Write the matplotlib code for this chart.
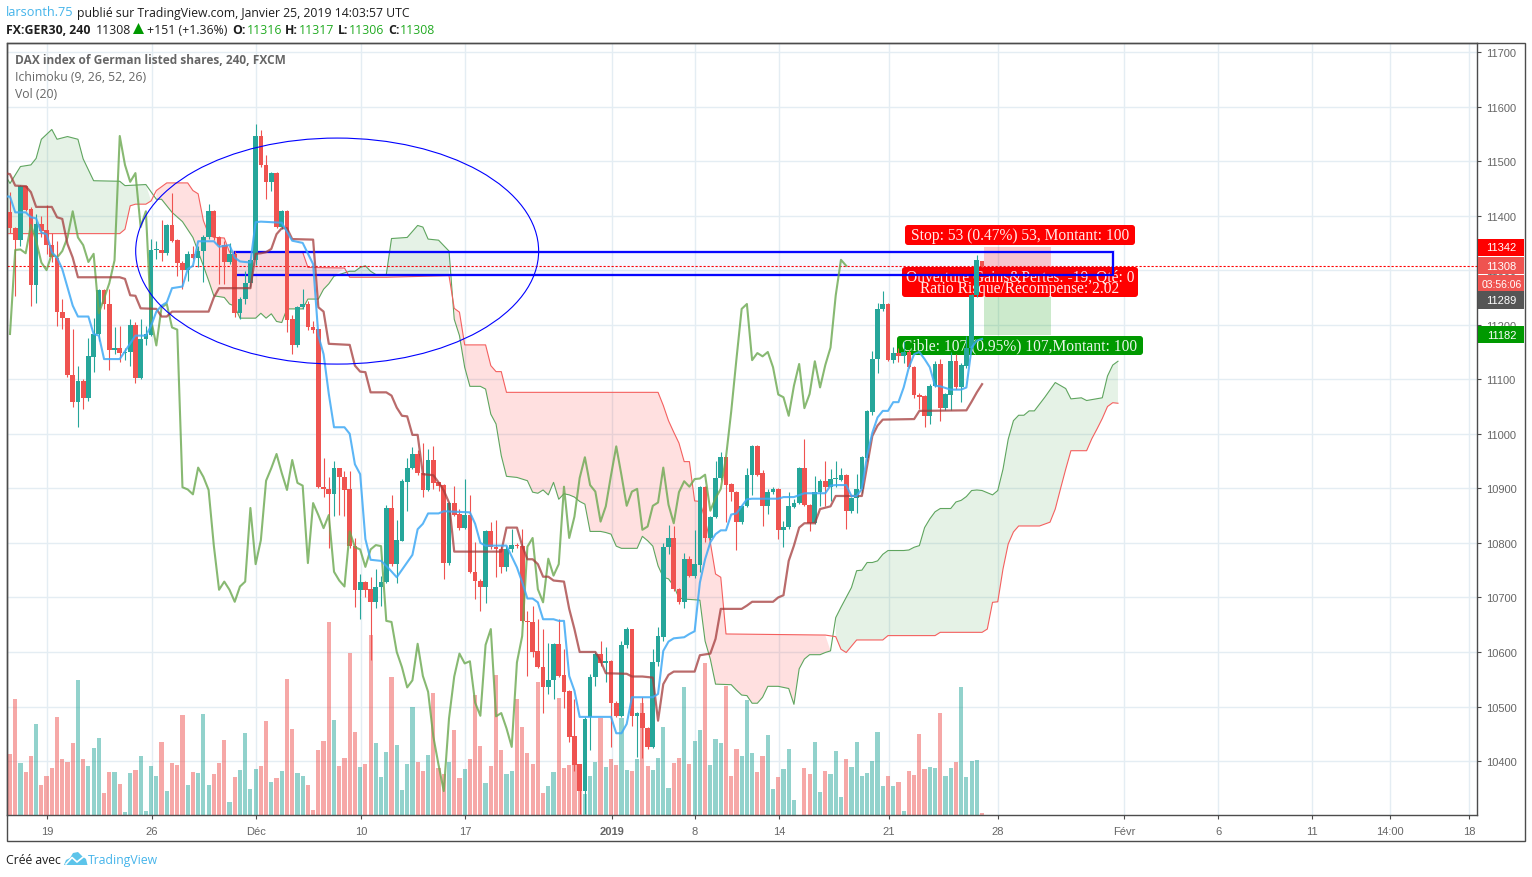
import matplotlib
matplotlib.use("Agg")
import matplotlib.pyplot as plt
import numpy as np
from matplotlib.patches import Ellipse, FancyBboxPatch, Polygon, Rectangle
from matplotlib.transforms import Affine2D, blended_transform_factory

W, H = 1532, 878

# candles, one value per 4h bar
opens = [11407, 11377, 11356, 11454, 11412, 11273, 11385, 11373, 11347, 11323, 11224, 11212, 11108, 11059, 11097, 11066,
         11141, 11183, 11264, 11238, 11154, 11157, 11148, 11150, 11200, 11102, 11174, 11182, 11337, 11337, 11331, 11383,
         11355, 11314, 11300, 11330, 11323, 11335, 11360, 11408, 11360, 11346, 11315, 11330, 11221, 11248, 11276, 11318,
         11546, 11493, 11462, 11478, 11379, 11408, 11210, 11162, 11232, 11238, 11195, 11192, 10902, 10898, 10890, 10938,
         10921, 10899, 10795, 10714, 10729, 10715, 10692, 10720, 10728, 10864, 10761, 10804, 10912, 10937, 10963, 10928,
         10897, 10952, 10911, 10906, 10763, 10873, 10853, 10827, 10851, 10747, 10731, 10720, 10821, 10792, 10788, 10756,
         10788, 10796, 10794, 10657, 10655, 10601, 10573, 10535, 10548, 10615, 10557, 10528, 10446, 10394, 10345, 10480,
         10555, 10597, 10580, 10584, 10507, 10483, 10613, 10642, 10482, 10488, 10460, 10426, 10581, 10628, 10793, 10809,
         10716, 10691, 10771, 10740, 10760, 10903, 10809, 10848, 10919, 10957, 10908, 10894, 10839, 10867, 10924, 10977,
         10928, 10868, 10894, 10899, 10824, 10830, 10866, 10874, 10938, 10870, 10836, 10893, 10913, 10903, 10917, 10915,
         10925, 10859, 10882, 10899, 10955, 11040, 11137, 11229, 11238, 11135, 11148, 11142, 11150, 11122, 11072, 11069,
         11033, 11088, 11128, 11047, 11072, 11133, 11085, 11125, 11158, 11254, 11316]
closes = [11377, 11356, 11454, 11410, 11273, 11385, 11372, 11347, 11325, 11224, 11212, 11108, 11059, 11097, 11066, 11143,
          11183, 11264, 11238, 11154, 11157, 11148, 11150, 11200, 11102, 11174, 11183, 11337, 11338, 11331, 11383, 11354,
          11314, 11300, 11330, 11323, 11335, 11360, 11408, 11360, 11346, 11315, 11330, 11221, 11248, 11276, 11318, 11546,
          11493, 11462, 11478, 11379, 11408, 11209, 11162, 11232, 11238, 11195, 11191, 10902, 10898, 10889, 10938, 10921,
          10897, 10795, 10714, 10729, 10714, 10692, 10720, 10729, 10864, 10761, 10805, 10914, 10937, 10963, 10928, 10897,
          10952, 10910, 10905, 10763, 10873, 10851, 10827, 10851, 10747, 10731, 10720, 10821, 10792, 10788, 10756, 10788,
          10796, 10794, 10657, 10655, 10600, 10572, 10535, 10548, 10615, 10556, 10527, 10445, 10393, 10345, 10478, 10555,
          10597, 10579, 10583, 10507, 10483, 10613, 10642, 10482, 10488, 10460, 10426, 10581, 10629, 10793, 10809, 10715,
          10691, 10771, 10740, 10761, 10903, 10809, 10848, 10919, 10957, 10906, 10894, 10839, 10867, 10924, 10977, 10924,
          10868, 10894, 10899, 10824, 10830, 10868, 10874, 10938, 10870, 10836, 10893, 10913, 10903, 10917, 10918, 10925,
          10859, 10882, 10899, 10957, 11041, 11137, 11229, 11238, 11135, 11148, 11142, 11150, 11122, 11072, 11067, 11033,
          11088, 11128, 11047, 11073, 11133, 11085, 11126, 11158, 11254, 11319, 11308]
highs = [11443, 11380, 11456, 11456, 11415, 11403, 11400, 11419, 11369, 11354, 11247, 11212, 11192, 11125, 11100, 11175,
         11212, 11266, 11266, 11265, 11195, 11198, 11158, 11210, 11205, 11210, 11198, 11357, 11354, 11392, 11385, 11441,
         11358, 11316, 11335, 11345, 11345, 11365, 11421, 11410, 11362, 11354, 11350, 11335, 11250, 11299, 11320, 11568,
         11557, 11511, 11480, 11480, 11410, 11410, 11217, 11234, 11265, 11244, 11207, 11193, 10955, 10920, 10950, 10938,
         10931, 10931, 10809, 10743, 10730, 10737, 10752, 10740, 10870, 10888, 10842, 10918, 10955, 10975, 10970, 10984,
         10973, 10977, 10912, 10908, 10875, 10905, 10862, 10918, 10888, 10801, 10733, 10823, 10838, 10842, 10795, 10795,
         10825, 10800, 10825, 10676, 10685, 10660, 10642, 10616, 10617, 10660, 10606, 10530, 10514, 10395, 10480, 10560,
         10600, 10621, 10610, 10586, 10510, 10620, 10645, 10643, 10490, 10517, 10462, 10606, 10645, 10800, 10833, 10831,
         10718, 10782, 10776, 10823, 10905, 10905, 10850, 10950, 10966, 10958, 10910, 10896, 10869, 10938, 10979, 10979,
         10933, 10898, 10902, 10901, 10840, 10893, 10880, 10940, 10990, 10872, 10922, 10917, 10950, 10935, 10950, 10938,
         10927, 10884, 10926, 10960, 11043, 11151, 11240, 11261, 11240, 11160, 11158, 11170, 11153, 11125, 11075, 11071,
         11092, 11134, 11138, 11075, 11150, 11146, 11130, 11180, 11256, 11327, 11317]
lows = [11369, 11252, 11344, 11408, 11234, 11240, 11360, 11330, 11315, 11198, 11192, 11105, 11050, 11012, 11045, 11060,
        11114, 11170, 11228, 11117, 11147, 11131, 11135, 11124, 11093, 11100, 11162, 11180, 11320, 11317, 11328, 11352,
        11290, 11265, 11280, 11320, 11305, 11278, 11358, 11355, 11275, 11275, 11312, 11215, 11210, 11238, 11270, 11310,
        11490, 11430, 11445, 11377, 11375, 11186, 11146, 11160, 11228, 11190, 11185, 10900, 10884, 10790, 10850, 10851,
        10850, 10790, 10683, 10660, 10700, 10586, 10680, 10685, 10726, 10758, 10727, 10803, 10859, 10935, 10925, 10885,
        10896, 10898, 10895, 10734, 10760, 10849, 10824, 10825, 10745, 10698, 10676, 10690, 10788, 10737, 10745, 10749,
        10784, 10790, 10655, 10556, 10590, 10570, 10489, 10523, 10514, 10555, 10498, 10435, 10382, 10303, 10303, 10421,
        10538, 10575, 10545, 10425, 10480, 10480, 10608, 10464, 10407, 10405, 10422, 10424, 10575, 10620, 10779, 10712,
        10688, 10680, 10737, 10736, 10746, 10801, 10805, 10845, 10915, 10838, 10877, 10787, 10835, 10865, 10887, 10922,
        10831, 10853, 10890, 10807, 10793, 10825, 10864, 10872, 10868, 10822, 10834, 10868, 10867, 10877, 10903, 10913,
        10826, 10855, 10855, 10892, 10950, 11035, 11111, 11225, 11133, 11130, 11131, 11130, 11120, 11065, 11046, 11013,
        11018, 11085, 11024, 11043, 11043, 11083, 11059, 11120, 11155, 11250, 11306]
# volume in arbitrary units
volumes = [180, 345, 153, 126, 174, 270, 87, 114, 138, 291, 165, 156, 213, 402, 165, 144, 198, 228, 63, 126, 126, 90, 6, 123,
           132, 174, 9, 144, 114, 216, 69, 153, 147, 297, 87, 126, 123, 300, 87, 120, 153, 222, 36, 111, 132, 243, 75, 135,
           144, 279, 96, 108, 129, 405, 255, 123, 114, 87, 12, 192, 219, 576, 282, 144, 168, 483, 246, 141, 150, 537, 213,
           111, 186, 411, 207, 72, 150, 321, 156, 129, 177, 363, 138, 120, 156, 252, 108, 135, 165, 357, 204, 93, 144, 417,
           192, 120, 129, 345, 261, 183, 150, 396, 63, 84, 126, 348, 138, 147, 150, 75, 60, 114, 156, 290, 141, 165, 147,
           290, 132, 129, 165, 333, 144, 132, 168, 261, 78, 153, 168, 381, 150, 219, 252, 453, 147, 225, 213, 384, 114, 195,
           174, 342, 183, 126, 174, 237, 75, 111, 135, 195, 42, 0, 138, 120, 216, 66, 129, 120, 189, 51, 165, 141, 216, 114,
           123, 159, 246, 84, 114, 84, 96, 9, 129, 117, 240, 135, 141, 138, 303, 114, 138, 156, 381, 111, 159, 162, 3]

tenkan_x = [-1, 0, 1, 3, 4, 5, 6, 7, 8, 9, 10, 12, 13, 15, 16, 17, 18, 21, 24, 26, 27, 28, 29, 30, 31, 33, 34, 35, 36, 39, 40,
            42, 43, 44, 46, 47, 48, 52, 54, 56, 58, 59, 60, 61, 62, 64, 65, 66, 67, 68, 69, 71, 72, 74, 77, 78, 79, 80, 82,
            83, 88, 89, 90, 91, 95, 97, 98, 99, 100, 101, 102, 104, 105, 106, 107, 108, 109, 115, 116, 117, 118, 119, 123,
            124, 125, 126, 127, 129, 130, 131, 132, 133, 134, 135, 136, 137, 138, 139, 140, 141, 142, 147, 148, 150, 152,
            156, 157, 158, 160, 161, 162, 163, 164, 165, 166, 167, 168, 169, 170, 171, 172, 173, 174, 175, 176, 177, 178,
            180, 182, 183, 184, 185, 186]
tenkan_y = [11435, 11435, 11406, 11406, 11397, 11395, 11369, 11366, 11333, 11323, 11302, 11235, 11215, 11215, 11183, 11180,
            11137, 11137, 11180, 11180, 11198, 11224, 11235, 11241, 11267, 11270, 11302, 11308, 11353, 11353, 11343, 11346,
            11323, 11316, 11314, 11388, 11389, 11387, 11354, 11350, 11311, 11180, 11146, 11073, 11012, 11012, 11000, 10944,
            10926, 10807, 10769, 10767, 10758, 10737, 10778, 10825, 10835, 10854, 10854, 10858, 10856, 10835, 10800, 10795,
            10795, 10755, 10728, 10698, 10698, 10691, 10660, 10660, 10657, 10657, 10556, 10529, 10481, 10481, 10451, 10451,
            10468, 10517, 10517, 10523, 10602, 10619, 10625, 10627, 10633, 10638, 10727, 10770, 10801, 10816, 10823, 10823,
            10852, 10854, 10867, 10880, 10881, 10881, 10884, 10884, 10891, 10891, 10905, 10906, 10906, 10886, 10886, 10899,
            10960, 11002, 11030, 11042, 11042, 11058, 11058, 11085, 11122, 11146, 11150, 11137, 11122, 11088, 11087, 11081,
            11081, 11085, 11158, 11171, 11174]

kijun_x = [-1, 0, 1, 3, 4, 5, 8, 9, 10, 11, 12, 13, 21, 22, 23, 24, 25, 28, 29, 30, 31, 38, 39, 40, 46, 47, 48, 49, 50, 51, 52,
           53, 54, 58, 59, 60, 61, 65, 66, 67, 68, 69, 72, 73, 74, 75, 76, 77, 78, 79, 81, 82, 83, 84, 85, 94, 95, 97, 98,
           99, 100, 101, 102, 103, 104, 106, 107, 108, 109, 112, 113, 114, 118, 119, 121, 123, 124, 125, 126, 127, 131, 132,
           134, 135, 136, 140, 141, 142, 146, 147, 148, 149, 150, 151, 152, 154, 155, 157, 158, 163, 164, 165, 166, 167,
           173, 174, 183, 184, 185, 186]
kijun_y = [11478, 11476, 11455, 11454, 11443, 11416, 11416, 11397, 11394, 11348, 11323, 11287, 11287, 11284, 11254, 11253,
           11230, 11229, 11215, 11215, 11224, 11224, 11250, 11267, 11267, 11330, 11331, 11333, 11339, 11366, 11377, 11377,
           11357, 11356, 11232, 11224, 11165, 11163, 11125, 11114, 11113, 11076, 11076, 11070, 11048, 11033, 11032, 10998,
           10998, 10926, 10924, 10911, 10896, 10874, 10784, 10784, 10828, 10828, 10795, 10770, 10770, 10761, 10738, 10738,
           10731, 10729, 10679, 10642, 10600, 10600, 10584, 10561, 10560, 10555, 10555, 10553, 10474, 10541, 10558, 10564,
           10564, 10594, 10597, 10624, 10679, 10679, 10685, 10692, 10692, 10700, 10704, 10767, 10795, 10828, 10836, 10836,
           10862, 10867, 10886, 10886, 10941, 10996, 11015, 11026, 11027, 11042, 11043, 11059, 11076, 11091]

span_a_x = [-1, 0, 2, 4, 5, 6, 8, 9, 11, 13, 14, 16, 21, 22, 26, 28, 29, 31, 33, 35, 37, 38, 39, 41, 42, 43, 44, 47, 48, 49,
            50, 51, 52, 53, 56, 57, 59, 60, 61, 62, 65, 66, 67, 68, 69, 70, 72, 73, 76, 78, 79, 80, 82, 84, 85, 86, 87, 88,
            90, 91, 92, 93, 94, 95, 97, 99, 100, 101, 102, 103, 104, 105, 106, 107, 108, 109, 110, 111, 113, 114, 115, 116,
            117, 120, 121, 122, 123, 124, 125, 126, 127, 128, 129, 132, 133, 134, 135, 138, 139, 140, 141, 142, 143, 144,
            145, 147, 148, 149, 150, 151, 152, 153, 155, 156, 157, 158, 159, 160, 161, 162, 163, 164, 165, 166, 167, 168,
            171, 172, 173, 174, 175, 176, 177, 178, 180, 181, 182, 183, 184, 185, 186, 188, 189, 190, 191, 192, 193, 194,
            195, 196, 198, 200, 202, 203, 205, 206, 209, 210, 211, 212]
span_a_y = [11476, 11459, 11490, 11493, 11505, 11540, 11558, 11540, 11545, 11540, 11504, 11464, 11463, 11455, 11457, 11430,
            11430, 11406, 11389, 11360, 11308, 11281, 11253, 11250, 11238, 11234, 11212, 11212, 11221, 11212, 11220, 11206,
            11204, 11229, 11229, 11247, 11247, 11265, 11275, 11289, 11298, 11298, 11305, 11308, 11298, 11292, 11292, 11358,
            11360, 11382, 11379, 11357, 11355, 11335, 11210, 11180, 11122, 11087, 11087, 11082, 11036, 11018, 10960, 10922,
            10920, 10914, 10893, 10891, 10897, 10888, 10911, 10880, 10890, 10888, 10884, 10876, 10871, 10821, 10821, 10819,
            10816, 10794, 10790, 10790, 10812, 10804, 10794, 10758, 10737, 10734, 10721, 10699, 10697, 10695, 10620, 10587,
            10541, 10540, 10530, 10521, 10520, 10506, 10506, 10517, 10537, 10537, 10535, 10533, 10504, 10569, 10587, 10595,
            10595, 10599, 10602, 10663, 10682, 10700, 10718, 10749, 10750, 10764, 10764, 10767, 10779, 10786, 10786, 10787,
            10792, 10795, 10828, 10844, 10857, 10863, 10863, 10875, 10878, 10885, 10896, 10897, 10896, 10888, 10896, 10935,
            10990, 11024, 11034, 11034, 11042, 11042, 11067, 11094, 11083, 11064, 11066, 11061, 11066, 11106, 11126, 11133]

span_b_x = [-1, 21, 22, 23, 24, 26, 27, 28, 30, 34, 35, 36, 37, 38, 39, 41, 42, 56, 57, 64, 65, 72, 84, 85, 86, 87, 91, 92, 93,
            94, 95, 124, 125, 126, 127, 128, 129, 130, 131, 132, 133, 134, 135, 136, 137, 156, 158, 159, 160, 162, 167, 168,
            177, 178, 186, 187, 188, 189, 190, 191, 192, 193, 197, 199, 200, 201, 202, 203, 206, 207, 208, 209, 210, 211, 212]
span_b_y = [11367, 11367, 11375, 11418, 11421, 11421, 11427, 11446, 11460, 11460, 11446, 11440, 11391, 11366, 11360, 11359,
            11333, 11333, 11305, 11304, 11287, 11287, 11290, 11230, 11223, 11163, 11163, 11125, 11114, 11114, 11076, 11076,
            11052, 11024, 11003, 10983, 10949, 10949, 10877, 10876, 10843, 10801, 10743, 10737, 10633, 10631, 10628, 10605,
            10599, 10622, 10622, 10630, 10630, 10636, 10636, 10642, 10691, 10692, 10752, 10798, 10820, 10831, 10831, 10838,
            10862, 10899, 10935, 10969, 10969, 10991, 11009, 11028, 11050, 11057, 11056]

# cloud stretches: (from bar, to bar, span A above span B)
cloud_runs = [(-1, 27.5, True), (27.5, 64.5, False), (64.5, 84.5, True), (84.5, 157.5, False), (157.5, 212, True)]

price_ticks = list(range(10400, 11800, 100))
time_ticks = [7.08, 27.17, 47.07, 67.16, 87.06, 115.2, 131.07, 147.15, 168.2, 189.05, 213.2, 231.2, 249.1, 264.06, 279.2]
time_labels = ["19", "26", "Déc", "10", "17", "2019", "8", "14", "21", "28", "Févr", "6", "11", "14:00", "18"]

stop_price, entry_price, target_price, last_price = 11342, 11289, 11182, 11308

RED, TEAL = "#ef5350", "#26a69a"
GRID = "#e4edf3"
TXT = "#666666"
LINKBLUE = "#45b4ea"

fig = plt.figure(figsize=(W / 100, H / 100), dpi=100, facecolor="white")
rect = [7 / W, (H - 815.5) / H, 1470 / W, 771.5 / H]
px = Affine2D().scale(1, -1).translate(0, H)  # pixel positions, y going down


def page_text(x, y, s, size=8.85, color="#1e1e1e", weight="normal", family="Open Sans", ha="left"):
    fig.text(x / W, 1 - y / H, s, fontsize=size, color=color, fontweight=weight, family=family, ha=ha, va="center")


ax_grid = fig.add_axes(rect, zorder=0)
ax_vol = fig.add_axes(rect, zorder=1, sharex=ax_grid)
ax = fig.add_axes(rect, zorder=2, sharex=ax_grid, sharey=ax_grid)
ax.patch.set_visible(False)
ax_vol.patch.set_visible(False)

ax_grid.set_xlim(-0.574, 280.7)
ax_grid.set_ylim(10302, 11716.5)
ax_vol.set_ylim(0, 2313)
ax_vol.axis("off")

ax_grid.set_xticks(time_ticks)
ax_grid.set_yticks(price_ticks)
ax_grid.grid(True, color=GRID, lw=1.0)
ax_grid.set_axisbelow(True)
ax_grid.tick_params(length=0, labelbottom=False, labelleft=False)
for s in ax_grid.spines.values():
    s.set_visible(False)

bars = np.arange(len(closes))
up = np.array(closes) >= np.array(opens)
bar_colors = [TEAL if u else RED for u in up]

ax_vol.bar(bars, volumes, width=0.8, color=bar_colors, alpha=0.5, lw=0)

# ichimoku cloud
for start, end, a_on_top in cloud_runs:
    ax_pts = [(x, y) for x, y in zip(span_a_x, span_a_y) if start <= x <= end]
    bx_pts = [(x, y) for x, y in zip(span_b_x, span_b_y) if start <= x <= end]
    color = "#43a047" if a_on_top else "#ff0000"
    alpha = 0.135 if a_on_top else 0.12
    ax.add_patch(Polygon(ax_pts + bx_pts[::-1], closed=True, fc=color, alpha=alpha, lw=0, zorder=1))
ax.plot(span_a_x, span_a_y, color="#5fa55f", lw=0.8, zorder=1.5)
ax.plot(span_b_x, span_b_y, color="#f4605f", lw=0.8, zorder=1.5)

ax.axhline(last_price, color="#ff0000", lw=0.8, ls=(0, (2, 1.6)), zorder=1.8)

# long position tool
ax.add_patch(Rectangle((186.4, entry_price), 12.8, stop_price - entry_price, fc="#ff0000", alpha=0.2, lw=0, zorder=2))
ax.add_patch(Rectangle((186.4, target_price), 12.8, entry_price - target_price, fc="#009900", alpha=0.2, lw=0, zorder=2))
for x0, y0, x1, y1, col in [(905, 226, 1135, 246, "#ff0000"), (902, 268, 1138, 298, "#ff0000"), (897, 337, 1143, 356, "#009900")]:
    ax.add_patch(FancyBboxPatch((x0, y0), x1 - x0, y1 - y0, boxstyle="round,pad=0,rounding_size=3", fc=col, lw=0,
                                transform=px, zorder=2.4, clip_on=False))
box_font = dict(family="Liberation Serif", fontsize=11.2, color="#ffffff", ha="center", va="center", transform=px, zorder=2.5, alpha=0.92)
ax.text(1020, 236, "Stop: 53 (0.47%) 53, Montant: 100", **box_font)
ax.text(1020, 277.5, "Ouverture Gains&Pertes: -19, Qté: 0", **box_font)
ax.text(1020, 289.5, "Ratio Risque/Récompense: 2.02", **box_font)
ax.text(1020, 346.5, "Cible: 107 (0.95%) 107,Montant: 100", **box_font)

# drawn horizontal zone, its left side stays under the candles
zone_left, zone_right, zone_low, zone_high = 43, 211, 11292, 11333
ax.add_patch(Rectangle((zone_left, zone_low), zone_right - zone_left, zone_high - zone_low, fc="#0000ff", alpha=0.03, lw=0, zorder=2.8))
ax.add_patch(Rectangle((zone_left, zone_low), zone_right - zone_left, zone_high - zone_low, fc="none", ec="#0000ff", lw=2.6, alpha=0.18, zorder=2.9))
ax.add_patch(Rectangle((zone_left, zone_low), zone_right - zone_left, zone_high - zone_low, fc="none", ec="#0000ff", lw=1.4, zorder=2.9))

# candles
ax.vlines(bars, lows, highs, colors=bar_colors, lw=0.8, zorder=3)
body_low = np.minimum(opens, closes)
body_high = np.maximum(opens, closes)
ax.bar(bars, np.maximum(body_high - body_low, 2), bottom=body_low, width=0.9, color=bar_colors, lw=0, zorder=3.1)

# lagging span is the close shifted back 26 bars
ax.plot(bars[:-26], closes[26:], color="#6aa84f", alpha=0.8, lw=1.5, zorder=4)
ax.plot(kijun_x, kijun_y, color="#a33a3a", alpha=0.75, lw=1.6, zorder=4)
ax.plot(tenkan_x, tenkan_y, color="#3fa9f5", alpha=0.85, lw=1.5, zorder=4)

ax.add_patch(Ellipse((62.6, 11335), 77.1, 414.4, fc="none", ec="#0000ff", lw=0.8, zorder=5))

# axes
ax.set_xticks(time_ticks)
ax.set_xticklabels(time_labels, family="Liberation Sans", fontsize=8, color=TXT)
ax.get_xticklabels()[time_labels.index("2019")].set_fontweight("bold")
ax.yaxis.tick_right()
ax.set_yticks(price_ticks)
ax.set_yticklabels([str(p) for p in price_ticks], family="Liberation Sans", fontsize=8, color=TXT)
ax.tick_params(axis="both", length=3, width=0.8, color="#4c4c4c", pad=3.5)
ax.tick_params(axis="x", pad=5)
for s in ax.spines.values():
    s.set_color("#4c4c4c")
    s.set_linewidth(1.0)

fig.add_artist(Rectangle((7, 44), 1518, 797.5, fc="none", ec="#4c4c4c", lw=1.0, transform=px))

# price tags on the scale, stacked apart where the prices are too close
tag_tr = blended_transform_factory(px, ax.transData)
tag_text = ["11342", "11308", "03:56:06", "11289", "11182"]
tag_pos = [stop_price, last_price, 11275.5, 11245.3, target_price]
tag_col = ["#ff0000", RED, RED, "#555555", "#009900"]
for label, price, col in zip(tag_text, tag_pos, tag_col):
    ax.add_patch(Rectangle((1478, price - 15.6), 46, 31.2, fc=col, lw=0, transform=tag_tr, zorder=6, clip_on=False))
    ax.text(1501.5, price, label, transform=tag_tr, family="Liberation Sans", fontsize=8 if ":" not in label else 7.5,
            color="#ffffff", ha="center", va="center", zorder=7, clip_on=False)

# study titles inside the chart
page_text(15, 60.5, "DAX index of German listed shares, 240, FXCM", size=8.55, color="#666666", weight="bold")
page_text(15, 77.5, "Ichimoku (9, 26, 52, 26)", size=8.8, color="#666666")
page_text(15, 94.5, "Vol (20)", size=8.8, color="#666666")

# page header
page_text(6, 13, "larsonth.75", color=LINKBLUE, size=9.2)
page_text(77, 13, "publié sur TradingView.com, Janvier 25, 2019 14:03:57 UTC")
page_text(6, 30, "FX:GER30, 240", weight="bold")
page_text(96, 30, "11308")
fig.add_artist(Polygon([(133, 35), (144, 35), (138.5, 24)], closed=True, fc="#009900", lw=0, transform=px))
page_text(147, 30, "+151 (+1.36%)")
for x_label, lbl, x_val, val in [(232, "O:", 247, "11316"), (285, "H:", 299, "11317"), (338, "L:", 349, "11306"), (388, "C:", 400, "11308")]:
    page_text(x_label, 30, lbl, weight="bold")
    page_text(x_val, 30, val, color="#22ab22")

# footer
page_text(6, 860.5, "Créé avec")
fig.add_artist(Polygon([(64, 866), (66, 861), (70, 859), (73, 854), (78, 853), (82, 857), (86, 860), (87.5, 866)], closed=True,
                       fc="#5cc4ea", lw=0, transform=px))
fig.add_artist(plt.Line2D([66, 72, 77, 85], [865, 858.5, 863, 856.5], color="white", lw=1.2, transform=px))
page_text(88, 860.5, "TradingView", color=LINKBLUE)

fig.savefig("out.png", dpi=100)
